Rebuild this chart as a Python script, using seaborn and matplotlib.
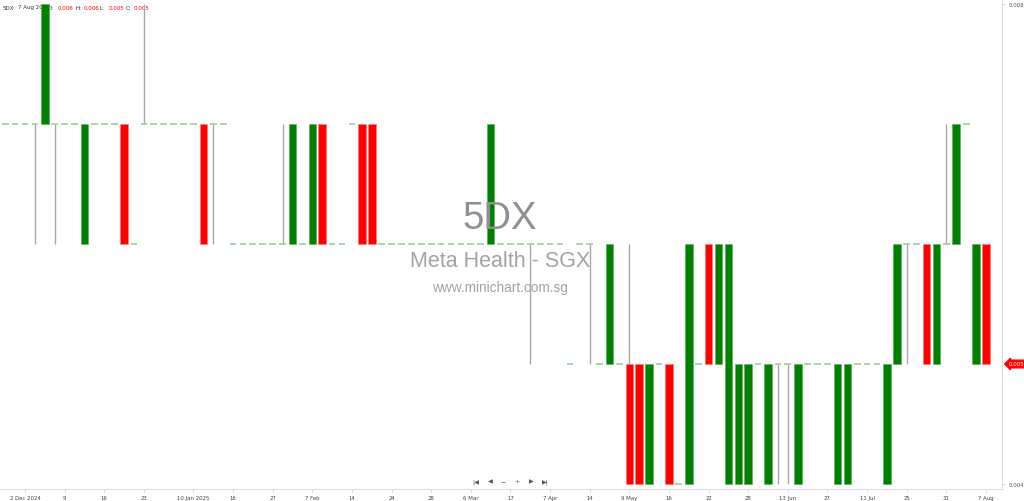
import numpy as np
import pandas as pd
import matplotlib
matplotlib.use("Agg")
import matplotlib.pyplot as plt
import seaborn as sns

# ---- data (prices in thousandths of a dollar), one entry per trading slot ----
slot_start = -2
opens = [7, 7, 7, 7, 7, 7, 7, 7, 6, 7,
         7, 7, 7, 6, 7, 7, 7, 7, 7, 7,
         7, 7, 7, 6, 6, 6, 6, 6, 6, 6,
         6, 6, 7, 6, 6, 7, 7, 7, 6, 6,
         6, 6, 6, 6, 6, 6, 6, 6, 6, 6,
         6, 6, 6, 6, 6, 6, 6, 5, 6, 6,
         5, 5, 5, 5, 5, 4, 5, 5, 4, 4,
         5, 6, 5, 4, 4, 4, 5, 4, 5, 5,
         4, 5, 5, 5, 4, 4, 5, 5, 5, 4,
         5, 6, 6, 6, 5, 6, 6, 7, 5, 6]
closes = [7, 7, 7, 7, 8, 7, 7, 7, 7, 7,
          7, 7, 6, 6, 7, 7, 7, 7, 7, 7,
          6, 7, 7, 6, 6, 6, 6, 6, 6, 7,
          6, 7, 6, 6, 6, 7, 6, 6, 6, 6,
          6, 6, 6, 6, 6, 6, 6, 6, 6, 7,
          6, 6, 6, 6, 6, 6, 6, 5, 6, 6,
          5, 6, 5, 4, 4, 5, 5, 4, 4, 6,
          5, 5, 6, 6, 5, 5, 5, 5, 5, 5,
          5, 5, 5, 5, 5, 5, 5, 5, 5, 5,
          6, 6, 6, 5, 6, 6, 7, 7, 6, 5]
highs = [7, 7, 7, 7, 8, 7, 7, 7, 7, 7,
         7, 7, 7, 6, 8, 7, 7, 7, 7, 7,
         7, 7, 7, 6, 6, 6, 6, 6, 7, 7,
         6, 7, 7, 6, 6, 7, 7, 7, 6, 6,
         6, 6, 6, 6, 6, 6, 6, 6, 6, 7,
         6, 6, 6, 6, 6, 6, 6, 5, 6, 6,
         5, 6, 5, 6, 5, 5, 5, 5, 4, 6,
         5, 6, 6, 6, 5, 5, 5, 5, 5, 5,
         5, 5, 5, 5, 5, 5, 5, 5, 5, 5,
         6, 6, 6, 6, 6, 7, 7, 7, 6, 6]
lows = [7, 7, 7, 6, 7, 6, 7, 7, 6, 7,
        7, 7, 6, 6, 7, 7, 7, 7, 7, 7,
        6, 6, 7, 6, 6, 6, 6, 6, 6, 6,
        6, 6, 6, 6, 6, 7, 6, 6, 6, 6,
        6, 6, 6, 6, 6, 6, 6, 6, 6, 6,
        6, 6, 6, 5, 6, 6, 6, 5, 6, 5,
        5, 5, 5, 4, 4, 4, 5, 4, 4, 4,
        5, 5, 5, 4, 4, 4, 5, 4, 4, 4,
        4, 5, 5, 5, 4, 4, 5, 5, 5, 4,
        5, 5, 6, 5, 5, 6, 6, 7, 5, 5]

tick_slots = [0, 4, 8, 12, 17, 21, 25, 29, 33, 37, 41, 45, 49, 53, 57,
              61, 65, 69, 73, 77, 81, 85, 89, 93, 97]
tick_labels = ["2 Dec 2024", "9", "16", "23", "10 Jan 2025", "16", "27", "7 Feb",
               "14", "24", "28", "6 Mar", "17", "7 Apr", "14", "9 May", "16", "22",
               "28", "13 Jun", "27", "11 Jul", "25", "31", "7 Aug"]
price_ticks = [0.004, 0.008]
last_price = 0.005

df = pd.DataFrame({"open": opens, "high": highs, "low": lows, "close": closes}) / 1000.0
df["slot"] = np.arange(len(df)) + slot_start

sns.set_theme(style="white")
plt.rcParams["font.family"] = ["DejaVu Sans"]

W, H = 1024, 502
fig = plt.figure(figsize=(W / 100, H / 100), dpi=100)
ax = fig.add_axes([0, 12 / H, 1002 / W, 490 / H])

GREEN = "#008000"
RED = "#ff0000"
FLAT = "#9fd49f"
WICK = "#a8a8a8"
bw = 0.76

# wicks
wk = df[(df.high > df[["open", "close"]].max(axis=1)) | (df.low < df[["open", "close"]].min(axis=1))]
ax.vlines(wk.slot, wk.low, wk.high, color=WICK, lw=1.0, zorder=1)

# flat days (open == close)
fl = df[df.open == df.close]
ax.hlines(fl.open, fl.slot - 0.34, fl.slot + 0.34, color=FLAT, lw=1.3, zorder=1.5)

# bodies
up = df[df.close > df.open]
dn = df[df.close < df.open]
ax.bar(up.slot, up.close - up.open, bottom=up.open, width=bw, color=GREEN,
       edgecolor="#5fae5f", linewidth=0.5, zorder=2)
ax.bar(dn.slot, dn.open - dn.close, bottom=dn.close, width=bw, color=RED,
       edgecolor="#ff7a7a", linewidth=0.5, zorder=2)

# scales
spx = 9.907
ax.set_xlim(-25 / spx, (1002 - 25) / spx)
ax.set_ylim(0.008 - 485 / 120000, 0.008 + 5 / 120000)

ax.set_xticks(tick_slots)
ax.set_xticklabels(tick_labels, fontsize=3.9, color="#444444")
ax.yaxis.tick_right()
ax.set_yticks(price_ticks)
ax.set_yticklabels([f"{v:.3f}" for v in price_ticks], fontsize=3.9, color="#555555")
ax.tick_params(axis="x", length=2.5, width=0.6, color="#cccccc", pad=1.5, bottom=True)
ax.tick_params(axis="y", length=2.5, width=0.6, color="#cccccc", pad=2, right=True, left=False)
ax.grid(False)
for side in ["top", "left"]:
    ax.spines[side].set_visible(False)
for side in ["right", "bottom"]:
    ax.spines[side].set_color("#dddddd")
    ax.spines[side].set_linewidth(0.8)

# header line
def axpx(x, y):
    return x / 1002, 1 - y / 490

hy = 8
hdr = [(3, "5DX", "#333333"), (18, "7 Aug 2025", "#333333"), (48, "O:", "#333333"),
       (58, "0.006", RED), (75, "H:", "#333333"), (84, "0.006", RED),
       (100, "L:", "#333333"), (109, "0.005", RED), (126, "C:", "#333333"),
       (134, "0.005", RED)]
for x, t, c in hdr:
    ax.text(*axpx(x, hy), t, transform=ax.transAxes, fontsize=4.0, color=c,
            ha="left", va="center", zorder=0)

# watermark
ax.text(*axpx(500, 219), "5DX", transform=ax.transAxes, fontsize=27.5, color="#8f8f8f",
        ha="center", va="center", family="Liberation Sans", zorder=3)
ax.text(*axpx(500, 262), "Meta Health - SGX", transform=ax.transAxes, fontsize=15.5,
        color="#a3a3a3", ha="center", va="center", family="Liberation Sans", zorder=3)
ax.text(*axpx(500, 288), "www.minichart.com.sg", transform=ax.transAxes, fontsize=9.8,
        color="#a3a3a3", ha="center", va="center", family="Liberation Sans", zorder=3)

# navigation icons
nav = [(476, "|◀"), (490, "◀"), (503, "−"), (517, "+"), (531, "▶"), (545, "▶|")]
for x, t in nav:
    ax.text(*axpx(x, 482), t, transform=ax.transAxes, fontsize=4.5, color="#555555",
            ha="center", va="center", zorder=3)

# last price tag
ax.annotate(f"{last_price:.3f}", xy=(1.0, last_price), xycoords=("axes fraction", "data"),
            xytext=(5, 0), textcoords="offset points", fontsize=3.9, color="white",
            ha="left", va="center", annotation_clip=False,
            bbox=dict(boxstyle="larrow,pad=0.25", fc=RED, ec=RED))

fig.savefig("out.png", dpi=100, facecolor="white")
